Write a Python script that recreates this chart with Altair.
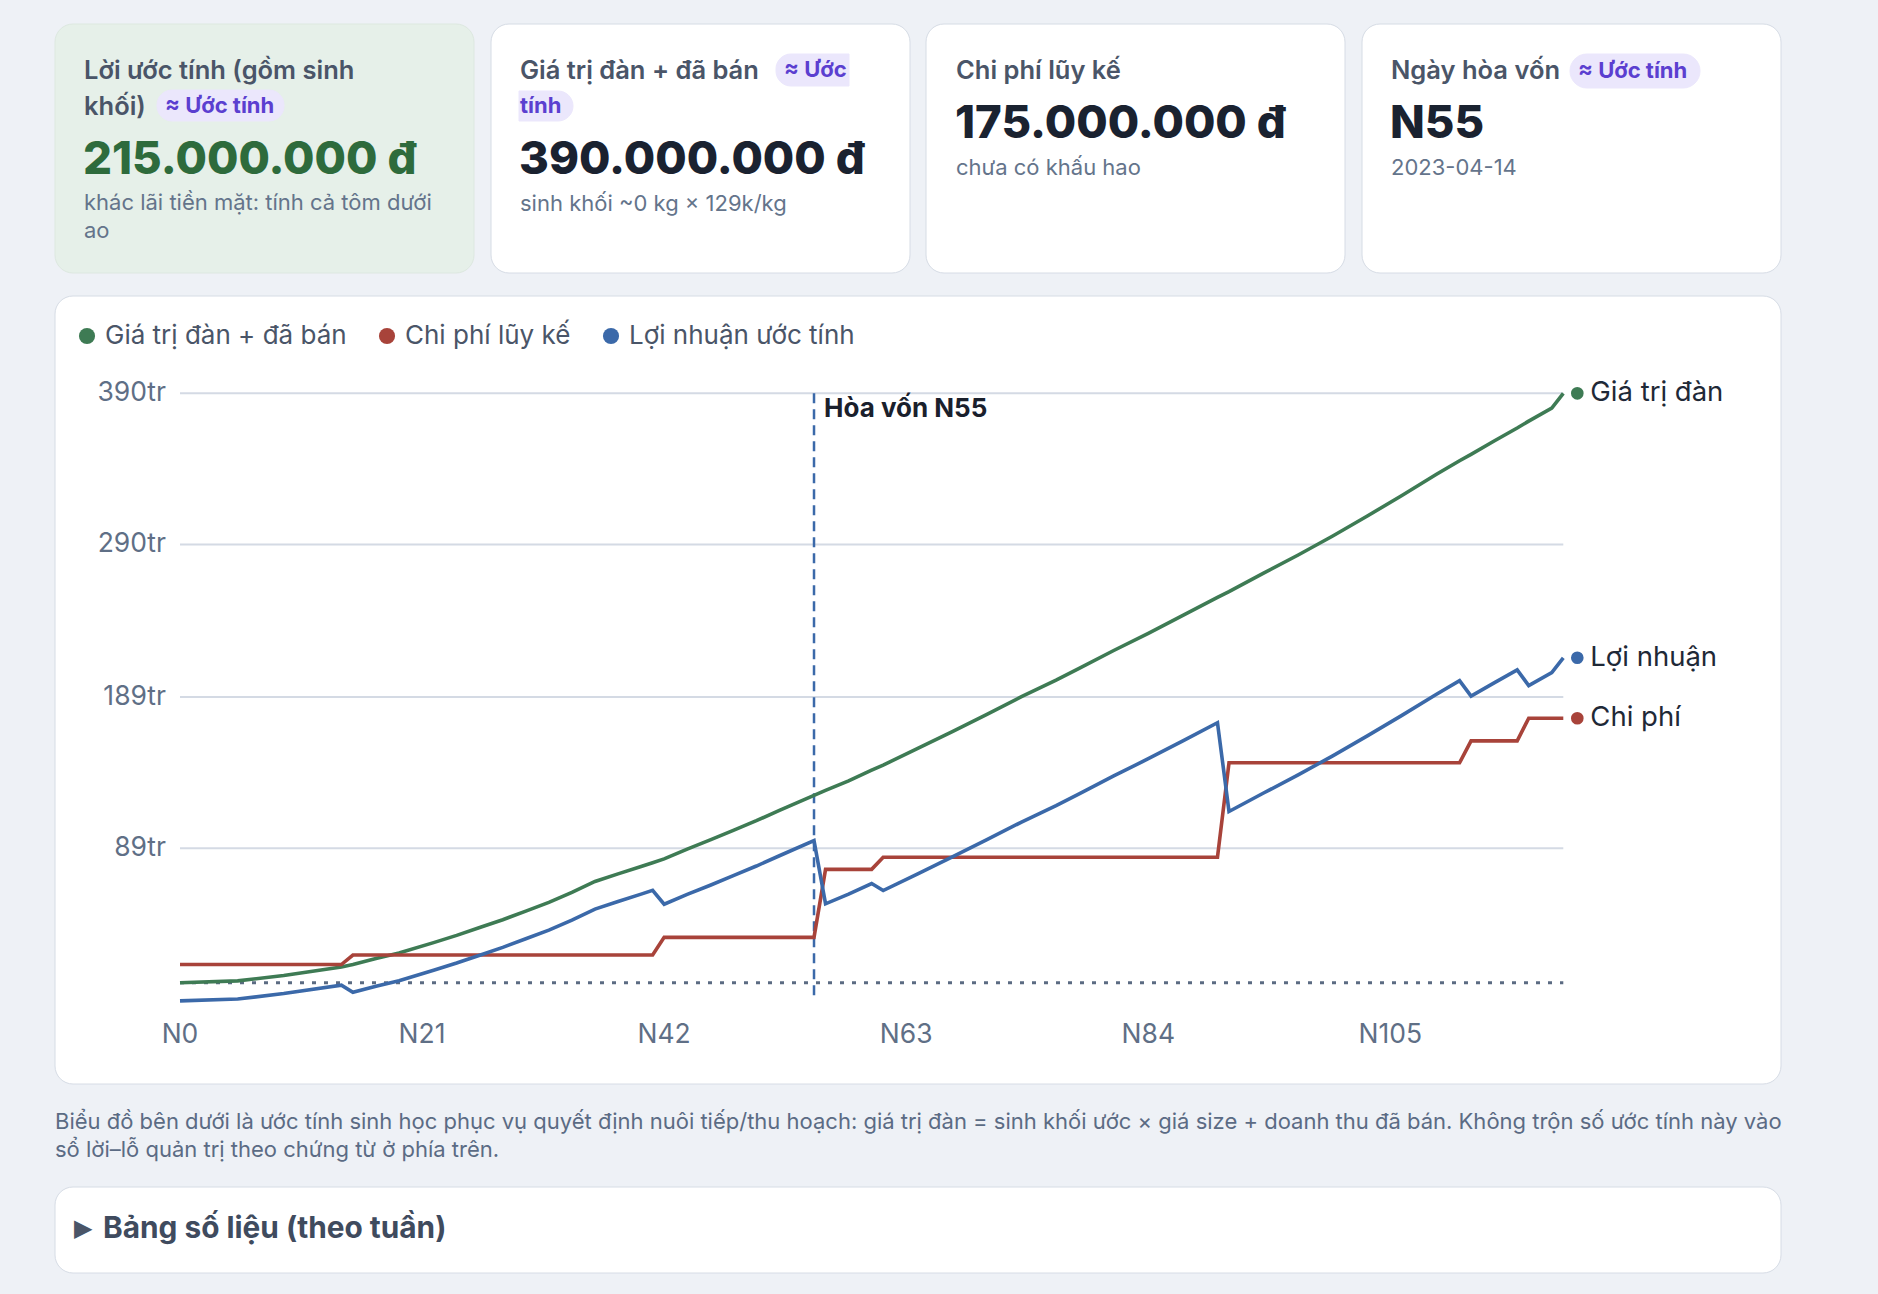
import altair as alt
import pandas as pd

FONT = "Inter"

# ---- series (million đồng), vertices by culture day ----
days = [0, 5, 9, 14, 15, 17, 19, 22, 24, 26, 28, 30, 32, 34, 36, 38, 40, 41, 42, 44,
        46, 48, 50, 52, 55, 56, 58, 60, 61, 64, 67, 70, 73, 76, 78, 81, 84, 87, 90, 91,
        94, 97, 100, 103, 106, 109, 111, 112, 114, 116, 117, 119, 120]
herd_value = [0.0, 1.2, 4.8, 10.4, 12.0, 16.0, 19.6, 26.5, 31.3, 36.5, 41.7, 47.4, 53.1, 59.7,
              67.0, 72.0, 76.9, 79.4, 81.9, 88.4, 94.5, 100.8, 107.2, 114.0, 124.0, 127.2,
              133.6, 140.6, 144.0, 155.0, 166.2, 177.6, 189.3, 200.2, 208.0, 219.8, 231.2,
              243.0, 255.0, 258.8, 271.0, 283.0, 295.6, 308.8, 322.4, 336.4, 345.4, 349.6,
              358.4, 367.0, 371.6, 380.2, 390.0]
cost = [12.0, 12.0, 12.0, 12.0,
        18.3, 18.3, 18.3, 18.3, 18.3, 18.3, 18.3, 18.3, 18.3, 18.3, 18.3, 18.3, 18.3, 18.3,
        30.0, 30.0, 30.0, 30.0, 30.0, 30.0, 30.0,
        75.0, 75.0, 75.0,
        83.0, 83.0, 83.0, 83.0, 83.0, 83.0, 83.0, 83.0, 83.0, 83.0, 83.0,
        145.5, 145.5, 145.5, 145.5, 145.5, 145.5, 145.5, 145.5,
        160.0, 160.0, 160.0,
        175.0, 175.0, 175.0]
profit = [-12.0, -10.8, -7.2, -1.6, -6.3, -2.3, 1.3, 8.2, 13.0, 18.2, 23.4, 29.1, 34.8, 41.4,
          48.7, 53.7, 58.6, 61.1, 51.9, 58.4, 64.5, 70.8, 77.2, 84.0, 94.0, 52.2, 58.6, 65.6,
          61.0, 72.0, 83.2, 94.6, 106.3, 117.2, 125.0, 136.8, 148.2, 160.0, 172.0, 113.3,
          125.5, 137.5, 150.1, 163.3, 176.9, 190.9, 199.9, 189.6, 198.4, 207.0, 196.6, 205.2,
          215.0]

series_names = ["Giá trị đàn + đã bán", "Chi phí lũy kế", "Lợi nhuận ước tính"]
end_names = ["Giá trị đàn", "Chi phí", "Lợi nhuận"]
series_colors = ["#3e7b54", "#a8433a", "#3b69a9"]

x_ticks = [0, 21, 42, 63, 84, 105]
x_tick_labels = ["N0", "N21", "N42", "N63", "N84", "N105"]
y_ticks = [89, 189, 290, 390]
y_tick_labels = ["89tr", "189tr", "290tr", "390tr"]

breakeven_day = 55
breakeven_date = "2023-04-14"

# ---- palette / layout ----
BG = "#eef1f6"
CARD = "#ffffff"
CARD_GREEN = "#e6f0e9"
BORDER = "#d6dce5"
GRID = "#d4dae4"
AXIS_TXT = "#5f6f86"
TITLE_TXT = "#4a5568"
SUB_TXT = "#64748b"
DARK = "#1a2230"
BADGE_BG = "#ebe7fc"
BADGE_TXT = "#5b3fd0"

TITLE_SIZE = 25.5
BIG_SIZE = 45.5
SUB_SIZE = 22
BADGE_SIZE = 22
AXIS_SIZE = 26.5

W, H = 1878, 1294
XS = alt.Scale(domain=[0, 120], range=[180, 1563.3], nice=False, zero=False)
YS = alt.Scale(domain=[0, 390], range=[982.7, 393.3], nice=False, zero=False)

ONE = pd.DataFrame({"k": [0]})


def money(v):
    return f"{int(round(v * 1_000_000)):,}".replace(",", ".") + " đ"


def panel(x0, y0, x1, y1, fill, stroke=BORDER, r=18, **corners):
    props = dict(fill=fill, stroke=stroke, strokeWidth=1)
    if corners:
        props.update(corners)
    else:
        props["cornerRadius"] = r
    return alt.Chart(ONE).mark_rect(**props).encode(
        x=alt.value(x0), x2=alt.value(x1), y=alt.value(y0), y2=alt.value(y1))


def label(x, y, txt, size, color, weight=400, align="left", font=FONT):
    return alt.Chart(ONE).mark_text(
        text=txt, align=align, baseline="middle", fontSize=size,
        fontWeight=weight, color=color, font=font).encode(x=alt.value(x), y=alt.value(y))


# ---- tables for the plot ----
long_rows = []
for name, vals in zip(series_names, [herd_value, cost, profit]):
    for d, v in zip(days, vals):
        long_rows.append({"day": d, "value": v, "series": name})
df = pd.DataFrame(long_rows)

df_end = pd.DataFrame({
    "day": [days[-1]] * 3,
    "value": [herd_value[-1], cost[-1], profit[-1]],
    "series": series_names,
    "short": end_names,
})
df_grid = pd.DataFrame({"tick": y_ticks, "lab": y_tick_labels,
                        "start": days[0], "end": days[-1]})
df_zero = pd.DataFrame({"tick": [0], "start": [days[0]], "end": [days[-1]]})
df_xt = pd.DataFrame({"day": x_ticks, "lab": x_tick_labels})
df_be = pd.DataFrame({"day": [breakeven_day], "top": [max(herd_value)],
                      "bottom": [min(profit)], "lab": [f"Hòa vốn N{breakeven_day}"]})

color = alt.Color(
    "series:N",
    scale=alt.Scale(domain=series_names, range=series_colors),
    legend=alt.Legend(
        orient="none", legendX=74, legendY=323, direction="horizontal", title=None,
        symbolType="circle", symbolSize=260, symbolStrokeWidth=0, padding=0,
        labelFont=FONT, labelFontSize=26, labelColor=TITLE_TXT, labelOffset=5,
        labelLimit=500, columnPadding=27),
)

layers = []

# cards
layers += [
    panel(55, 24, 474, 273, CARD_GREEN, stroke="#dde8e0"),
    panel(491, 24, 910, 273, CARD),
    panel(926, 24, 1345, 273, CARD),
    panel(1362, 24, 1781, 273, CARD),
    panel(55, 296, 1781, 1084, CARD),
    panel(55, 1187, 1781, 1273, CARD),
]

# grid, zero line, axis labels
layers.append(alt.Chart(df_grid).mark_rule(color=GRID, strokeWidth=2).encode(
    x=alt.X("start:Q", scale=XS, axis=None), x2="end:Q",
    y=alt.Y("tick:Q", scale=YS, axis=None)))
layers.append(alt.Chart(df_zero).mark_rule(color="#5b6b82", strokeWidth=3, strokeDash=[4, 8]).encode(
    x=alt.X("start:Q", scale=XS, axis=None), x2="end:Q",
    y=alt.Y("tick:Q", scale=YS, axis=None)))
layers.append(alt.Chart(df_grid).mark_text(
    align="right", baseline="middle", fontSize=AXIS_SIZE, color=AXIS_TXT, font=FONT).encode(
    x=alt.value(166), y=alt.Y("tick:Q", scale=YS, axis=None), text="lab:N"))
layers.append(alt.Chart(df_xt).mark_text(
    align="center", baseline="middle", fontSize=AXIS_SIZE, color=AXIS_TXT, font=FONT).encode(
    x=alt.X("day:Q", scale=XS, axis=None), y=alt.value(1035), text="lab:N"))

# breakeven marker
layers.append(alt.Chart(df_be).mark_rule(color="#3b69a9", strokeWidth=2.5, strokeDash=[10, 6]).encode(
    x=alt.X("day:Q", scale=XS, axis=None),
    y=alt.Y("top:Q", scale=YS, axis=None), y2="bottom:Q"))
layers.append(alt.Chart(df_be).mark_text(
    align="left", baseline="middle", dx=10, dy=16, fontSize=26, fontWeight=700,
    color="#1a202c", font=FONT).encode(
    x=alt.X("day:Q", scale=XS, axis=None), y=alt.Y("top:Q", scale=YS, axis=None), text="lab:N"))

# end dots (first colour layer, so the legend uses filled circles), lines, end labels
layers.append(alt.Chart(df_end).mark_circle(size=160, opacity=1, xOffset=14).encode(
    x=alt.X("day:Q", scale=XS, axis=None), y=alt.Y("value:Q", scale=YS, axis=None), color=color))
layers.append(alt.Chart(df).mark_line(strokeWidth=3.6).encode(
    x=alt.X("day:Q", scale=XS, axis=None), y=alt.Y("value:Q", scale=YS, axis=None), color=color))
layers.append(alt.Chart(df_end).mark_text(
    align="left", baseline="middle", dx=27, fontSize=27.5, color="#1f2937", font=FONT).encode(
    x=alt.X("day:Q", scale=XS, axis=None), y=alt.Y("value:Q", scale=YS, axis=None), text="short:N"))

# KPI card 1
layers += [
    label(84, 71, "Lời ước tính (gồm sinh", TITLE_SIZE, TITLE_TXT, 600),
    label(84, 107, "khối)", TITLE_SIZE, TITLE_TXT, 600),
    panel(157, 90, 284, 121, BADGE_BG, stroke=BADGE_BG, r=15),
    label(165, 106, "≈ Ước tính", BADGE_SIZE, BADGE_TXT, 700),
    label(83, 160, money(profit[-1]), BIG_SIZE, "#2e6b3c", 800),
    label(84, 203, "khác lãi tiền mặt: tính cả tôm dưới", SUB_SIZE, SUB_TXT),
    label(84, 231, "ao", SUB_SIZE, SUB_TXT),
]
# KPI card 2
layers += [
    label(520, 71, "Giá trị đàn + đã bán", TITLE_SIZE, TITLE_TXT, 600),
    panel(776, 54, 849, 86, BADGE_BG, stroke=BADGE_BG,
          cornerRadiusTopLeft=15, cornerRadiusBottomLeft=15),
    label(784, 70, "≈ Ước", BADGE_SIZE, BADGE_TXT, 700),
    panel(519, 91, 573, 121, BADGE_BG, stroke=BADGE_BG,
          cornerRadiusTopRight=15, cornerRadiusBottomRight=15),
    label(520, 106, "tính", BADGE_SIZE, BADGE_TXT, 700),
    label(519, 160, money(herd_value[-1]), BIG_SIZE, DARK, 800),
    label(520, 204, "sinh khối ~0 kg × 129k/kg", SUB_SIZE, SUB_TXT),
]
# KPI card 3
layers += [
    label(956, 71, "Chi phí lũy kế", TITLE_SIZE, TITLE_TXT, 600),
    label(955, 124, money(cost[-1]), BIG_SIZE, DARK, 800),
    label(956, 168, "chưa có khấu hao", SUB_SIZE, SUB_TXT),
]
# KPI card 4
layers += [
    label(1391, 71, "Ngày hòa vốn", TITLE_SIZE, TITLE_TXT, 600),
    panel(1570, 54, 1700, 88, BADGE_BG, stroke=BADGE_BG, r=17),
    label(1578, 71, "≈ Ước tính", BADGE_SIZE, BADGE_TXT, 700),
    label(1390, 124, f"N{breakeven_day}", BIG_SIZE, DARK, 800),
    label(1391, 168, breakeven_date, SUB_SIZE, SUB_TXT),
]

# footnote and collapsed table header
layers += [
    label(55, 1122, "Biểu đồ bên dưới là ước tính sinh học phục vụ quyết định nuôi tiếp/thu hoạch: "
          "giá trị đàn = sinh khối ước × giá size + doanh thu đã bán. Không trộn số ước tính này vào",
          22, "#5b6b84"),
    label(55, 1150, "sổ lời–lỗ quản trị theo chứng từ ở phía trên.", 22, "#5b6b84"),
    label(74, 1229, "▶", 24, "#4a5568", 400, font="DejaVu Sans"),
    label(103, 1229, "Bảng số liệu (theo tuần)", 29.8, "#3f4b5e", 700),
]

chart = alt.layer(*layers).properties(
    width=W, height=H,
    autosize=alt.AutoSizeParams(type="none"),
    padding=0,
    background=BG,
).configure_view(stroke=None)

chart.save("out.html", embed_options={"renderer": "svg", "actions": False})
